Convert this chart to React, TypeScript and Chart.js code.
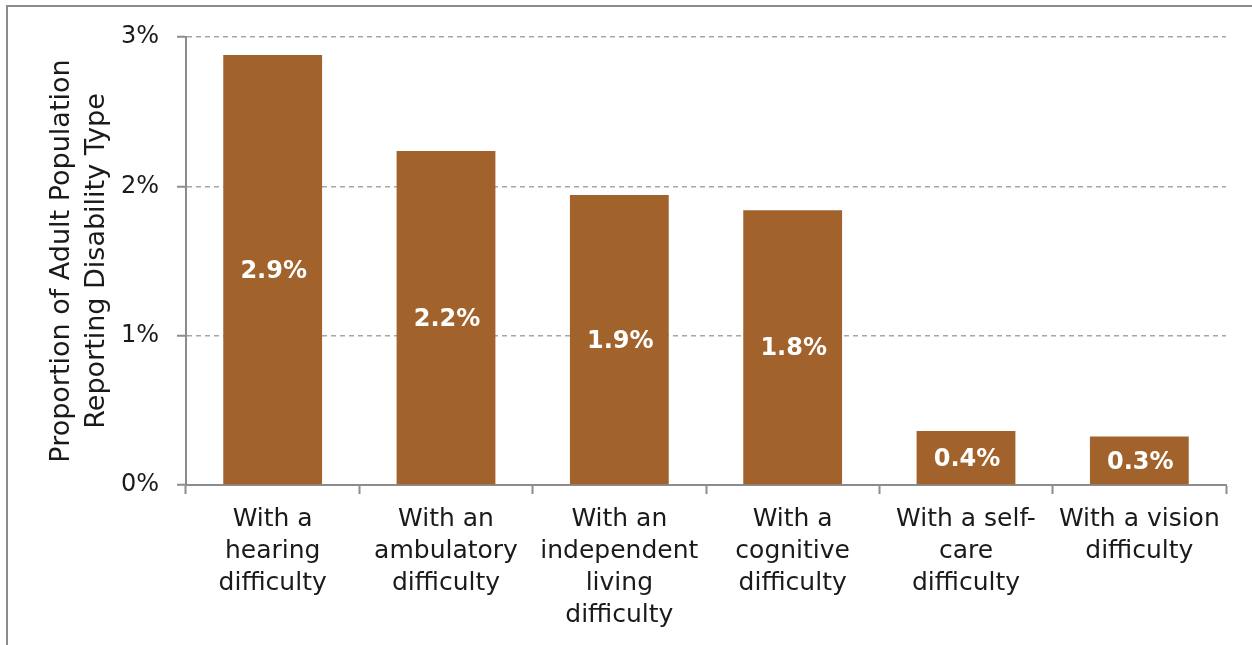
import React, { useEffect, useRef } from "react";
import { Chart, registerables } from "chart.js";

Chart.register(...registerables);

const categories: string[][] = [
  ["With a", "hearing", "difficulty"],
  ["With an", "ambulatory", "difficulty"],
  ["With an", "independent", "living", "difficulty"],
  ["With a", "cognitive", "difficulty"],
  ["With a self-", "care", "difficulty"],
  ["With a vision", "difficulty"],
];
const values: number[] = [2.88, 2.237, 1.942, 1.84, 0.362, 0.324];
const yTicks: number[] = [0, 1, 2, 3];
const yTitle: string[] = ["Proportion of Adult Population", "Reporting Disability Type"];

const FONT = "'DejaVu Sans', sans-serif";
const BAR = "#A2622B";
const GRID = "#a6a6a6";
const AXIS = "#8c8c8c";

const labelPlugin = {
  id: "barLabels",
  afterDatasetsDraw(chart: any) {
    const ctx = chart.ctx;
    const meta = chart.getDatasetMeta(0);
    ctx.save();
    ctx.fillStyle = "#ffffff";
    ctx.font = `bold 24px ${FONT}`;
    ctx.textAlign = "center";
    ctx.textBaseline = "middle";
    meta.data.forEach((bar: any, i: number) => {
      const v = values[i];
      ctx.fillText(v.toFixed(1) + "%", bar.x + 1, (bar.y + bar.base) / 2 + 2);
    });
    ctx.restore();
  },
};

export default function App() {
  const ref = useRef<HTMLCanvasElement | null>(null);
  useEffect(() => {
    if (!ref.current) return;
    const chart = new Chart(ref.current, {
      type: "bar",
      data: {
        labels: categories,
        datasets: [
          {
            data: values,
            backgroundColor: BAR,
            barPercentage: 0.57,
            categoryPercentage: 1,
          },
        ],
      },
      options: {
        animation: false,
        responsive: false,
        maintainAspectRatio: false,
        layout: { padding: { top: 37, right: 26, left: 0, bottom: 0 } },
        plugins: { legend: { display: false }, tooltip: { enabled: false } },
        scales: {
          x: {
            grid: {
              offset: true,
              drawOnChartArea: false,
              drawTicks: true,
              tickLength: 9,
              tickColor: AXIS,
              tickWidth: 2,
            },
            border: { display: true, color: AXIS, width: 2 },
            ticks: {
              color: "#1a1a1a",
              font: { family: FONT, size: 25, lineHeight: 1.28 },
              padding: 9,
              maxRotation: 0,
              autoSkip: false,
            },
            afterFit(scale: any) {
              scale.height = 645 - 485;
            },
          },
          y: {
            min: 0,
            max: 3,
            afterBuildTicks(scale: any) {
              scale.ticks = yTicks.map((v) => ({ value: v }));
            },
            grid: {
              color: GRID,
              lineWidth: 1.5,
              drawTicks: true,
              tickLength: 9,
              tickColor: AXIS,
              tickWidth: 2,
            },
            border: { display: true, color: AXIS, width: 2, dash: [5, 4] },
            ticks: {
              color: "#1a1a1a",
              font: { family: FONT, size: 24 },
              padding: 18,
              callback: (v: any) => v + "%",
            },
            title: {
              display: true,
              text: yTitle,
              color: "#1a1a1a",
              font: { family: FONT, size: 27, lineHeight: 1.3 },
              padding: { top: 44, bottom: 0 },
            },
            afterFit(scale: any) {
              scale.width = 186;
            },
          },
        },
      },
      plugins: [labelPlugin],
    });
    return () => chart.destroy();
  }, []);
  return (
    <div style={{ position: "fixed", left: 0, top: 0, width: 1252, height: 645, background: "#fff" }}>
      <div
        style={{
          position: "absolute",
          left: 6,
          top: 5,
          width: 1270,
          height: 680,
          border: "2px solid #8c8c8c",
          boxSizing: "border-box",
        }}
      />
      <canvas ref={ref} width={1252} height={645} style={{ position: "absolute", left: 0, top: 0, width: 1252, height: 645 }} />
    </div>
  );
}
